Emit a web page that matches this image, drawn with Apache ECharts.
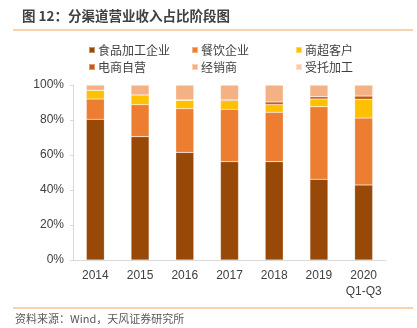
<!DOCTYPE html>
<html><head><meta charset="utf-8">
<script src="https://cdn.jsdelivr.net/npm/echarts@6/dist/echarts.min.js"></script>
<style>html,body{margin:0;padding:0;background:#fff}#c{width:417px;height:328px}</style>
</head><body><div id="c"></div>
<script>
const categories = ['2014','2015','2016','2017','2018','2019','2020\nQ1-Q3'];
const seriesNames = ['食品加工企业','餐饮企业','商超客户','电商自营','经销商','受托加工'];
const food = [80.4, 70.5, 61.5, 56.2, 56.2, 46.1, 42.9];
const catering = [11.6, 18.3, 25.0, 29.9, 28.2, 41.5, 38.2];
const retail = [5.0, 5.5, 4.7, 4.9, 4.4, 4.4, 10.7];
const ecommerce = [0, 0, 0.3, 0.5, 1.5, 1.3, 1.9];
const dealer = [3.0, 5.7, 8.5, 8.5, 9.7, 6.7, 6.3];
const oem = [0, 0, 0, 0, 0, 0, 0];
const yTicks = [0, 20, 40, 60, 80, 100];
const colors = ['#984807','#ED7D31','#FFC000','#C55A11','#F4B183','#F8CBAD'];
const values = [food, catering, retail, ecommerce, dealer, oem];

const legendPos = [[83,39],[186,39],[290,39],[83,56],[186,56],[290,56]];
const chart = echarts.init(document.getElementById('c'), null, {renderer:'canvas'});
chart.setOption({
  animation:false,
  color: colors,
  title:{text:'图 12：分渠道营业收入占比阶段图', left:17, top:4,
    textStyle:{fontSize:13.5, fontWeight:'bold', color:'#404040', fontFamily:'Noto Sans CJK SC'}},
  legend: seriesNames.map((n,i)=>({
    data:[n], left:legendPos[i][0], top:legendPos[i][1], icon:'rect', itemWidth:6, itemHeight:6, itemGap:0,
    textStyle:{fontSize:12, color:'#404040', fontFamily:'Noto Sans CJK SC', padding:[0,0,0,-2]}
  })),
  grid:{left:73, right:31, top:85, bottom:68},
  xAxis:{type:'category', data:categories,
    axisLine:{lineStyle:{color:'#d9d9d9'}}, axisTick:{show:false},
    axisLabel:{interval:0, fontSize:12, color:'#404040', fontFamily:'Liberation Sans', margin:8, lineHeight:16}},
  yAxis:{type:'value', min:0, max:100, interval:20,
    axisLine:{show:true, lineStyle:{color:'#d9d9d9'}},
    axisTick:{show:true, length:3, lineStyle:{color:'#d9d9d9'}},
    splitLine:{show:false},
    axisLabel:{formatter:v=> yTicks.includes(v)? v+'%':'', fontSize:12, color:'#404040', fontFamily:'Liberation Sans', margin:9}},
  series: seriesNames.map((n,i)=>({
    name:n, type:'bar', stack:'total', barWidth:18, data:values[i],
    itemStyle:{color:colors[i], borderColor:'rgba(255,255,255,0.4)', borderWidth:0.5}
  })),
  graphic:[
    {type:'line', shape:{x1:13,y1:30,x2:413,y2:30}, style:{stroke:'#F7A35C', lineWidth:1}},
    {type:'line', shape:{x1:13,y1:308,x2:413,y2:308}, style:{stroke:'#F7A35C', lineWidth:1}},
    {type:'text', left:15, top:313, style:{text:'资料来源：Wind，天风证券研究所', fontSize:11, fill:'#595959', fontFamily:'Noto Sans CJK SC'}}
  ]
});
</script></body></html>
